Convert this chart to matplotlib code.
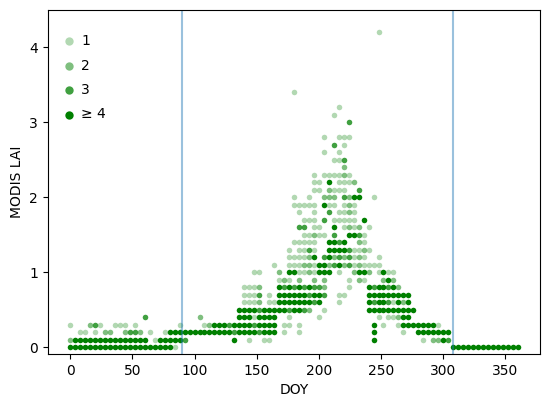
import numpy as np
import matplotlib
matplotlib.use("Agg")
import matplotlib.pyplot as plt

# 4-day composites, DOY 0..360 (91 columns)
doy = np.arange(0, 361, 4)

# LAI levels and, for each level, one character per DOY column:
# number of pixels with that LAI on that day ('.' = none, 4 = four or more)
lai = [0.0, 0.1, 0.2, 0.3, 0.4, 0.5, 0.6, 0.7, 0.8, 0.9, 1.0, 1.1, 1.2, 1.3, 1.4,
       1.5, 1.6, 1.7, 1.8, 1.9, 2.0, 2.1, 2.2, 2.3, 2.4, 2.5, 2.6, 2.7, 2.8,
       3.0, 3.1, 3.2, 3.4, 4.2]
rows = [
    "4444444444 4444444444 41........ .......... .......... .......... .......... .......444 4444444444 4",
    "2444444444 444444.144 4443...... ...4..1..1 1......... .......... .4........ .1.2243...",
    "..11.1.22. .2332.1..1 4444444444 4443444434 44.1..1... .......... .4.....1.. 4444444...",
    "1...231..1 11.1...... ..1....124 4434444344 44.11.1... .......... .4.1..1444 44441.....",
    ".......... .....3.... ......2... ....444144 44..1..... 1......... ..1.11244.",
    ".......... .......... .......... ....444434 444434432. .1........ 4444444444",
    ".......... .......... .......... .....1112. 1144444443 4...1..... 434431424.",
    ".......... .......... .......... .....1113. 1.44444434 43..11.... 444444444.",
    ".......... .......... .......... .....1112. ..43434343 32....1... 4344342...",
    ".......... .......... .......... .......... ..121.2..2 .2....1.21 ...242....",
    ".......... .......... .......... .......11. ..2.441121 444.1..244 2.1411....",
    ".......... .......... .......... .......... .1..111221 4423423121 111.......",
    ".......... .......... .......... .......... ....111124 .342323121 ..1.......",
    ".......... .......... .......... .......... ....1.1131 ..44443112 1.........",
    ".......... .......... .......... .......... .....11111 ..4434..21",
    ".......... .......... .......... .......... .......112 11.3..4431",
    ".......... .......... .......... .......... ......33.1 1..4.1212. 1.........",
    ".......... .......... .......... .......... .......111 .3.11111.4",
    ".......... .......... .......... .......... ......1..1 ..3.1121..",
    ".......... .......... .......... .......... .....11111 .411.121..",
    ".......... .......... .......... .......... .....1..1. .222.3244. .1........",
    ".......... .......... .......... .......... .........1 1.2111..3.",
    ".......... .......... .......... .......... .........1 1.4.1112..",
    ".......... .......... .......... .......... .........1 .111121...",
    ".......... .......... .......... .......... .......... .....2....",
    ".......... .......... .......... .......... .......... ...113....",
    ".......... .......... .......... .......... .......... .1..1.....",
    ".......... .......... .......... .......... .......... ...3.1....",
    ".......... .......... .......... .......... .......... .1..111...",
    ".......... .......... .......... .......... .......... ......3...",
    ".......... .......... .......... .......... .......... ...1......",
    ".......... .......... .......... .......... .......... ....1.....",
    ".......... .......... .......... .......... .....1....",
    ".......... .......... .......... .......... .......... .......... ..1.......",
]

# growing season limits
season = [90, 308]

count_labels = ["1", "2", "3", "\u2265 4"]
count_alpha = [0.3, 0.5, 0.75, 1.0]

# unpack the grid into points
xs, ys, cs = [], [], []
for v, r in zip(lai, rows):
    r = r.replace(" ", "").ljust(len(doy), ".")
    for d, ch in zip(doy, r):
        if ch != ".":
            xs.append(d)
            ys.append(v)
            cs.append(int(ch))
xs = np.array(xs)
ys = np.array(ys)
cs = np.array(cs)

fig, ax = plt.subplots(figsize=(5.5, 3.97), dpi=100)
fig.subplots_adjust(left=0.087, right=0.982, bottom=0.108, top=0.975)

for i, (lab, a) in enumerate(zip(count_labels, count_alpha)):
    m = cs == i + 1
    ax.scatter(xs[m], ys[m], s=16, color="green", alpha=a, linewidths=0, label=lab)

for d in season:
    ax.axvline(d, color="tab:blue", alpha=0.45, lw=1.5)

ax.set_xlim(-18, 378)
ax.set_ylim(-0.09, 4.5)
ax.set_xticks(np.arange(0, 351, 50))
ax.set_yticks([0, 1, 2, 3, 4])
ax.set_xlabel("DOY")
ax.set_ylabel("MODIS LAI")
ax.legend(loc="upper left", bbox_to_anchor=(0.0, 0.97), frameon=False,
          markerscale=1.5, labelspacing=0.75, handlelength=1.0,
          handletextpad=0.4, borderaxespad=0.6)

fig.savefig("out.png", dpi=100)
